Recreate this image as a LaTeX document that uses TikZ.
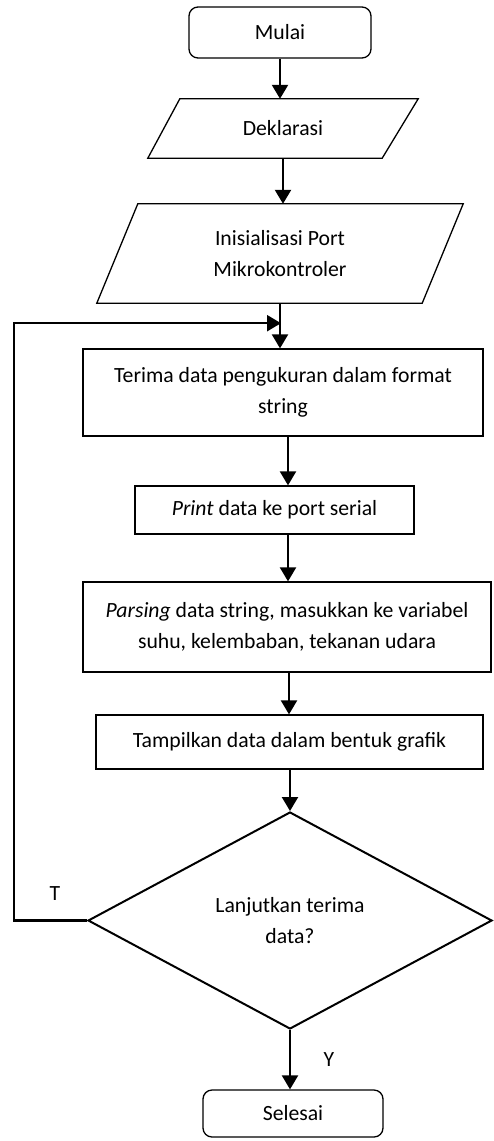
\documentclass[tikz,border=0pt]{standalone}
\usepackage{fontspec}
\setmainfont{Carlito}
\usetikzlibrary{arrows.meta,calc,shapes.geometric}
\begin{document}
\begin{tikzpicture}[x=1pt,y=-1pt,
  txt/.style={font=\fontsize{21.7}{30.5}\selectfont, align=center, inner sep=0pt},
  holder/.style={txt},
  arr/.style={line width=2.3pt, -{Triangle[length=14pt,width=16pt]}},
  outline/.style={line width=1.3pt, line join=miter},
]
\useasboundingbox (0,0) rectangle (493,1141);
% nodes
\node[txt, draw, line width=1.3pt, rounded corners=9pt, minimum width=182pt, minimum height=51pt] (mulai) at (280,32.5) {Mulai};
\node[holder, minimum width=270pt, minimum height=59pt] (dek) at (283,128.5) {Deklarasi};
\node[holder, minimum width=366pt, minimum height=99pt] (ini) at (280,253.5) {Inisialisasi Port\\Mikrokontroler};
\node[txt, draw, line width=1.3pt, minimum width=400pt, minimum height=87pt] (terima) at (283,392.5) {Terima data pengukuran dalam format\\string};
\node[txt, draw, line width=1.3pt, minimum width=279pt, minimum height=48pt] (print) at (274.5,510) {\textit{Print} data ke port serial};
\node[txt, draw, line width=1.3pt, minimum width=408pt, minimum height=90pt] (parsing) at (287,627) {\textit{Parsing} data string, masukkan ke variabel\\suhu, kelembaban, tekanan udara};
\node[txt, draw, line width=1.3pt, minimum width=387pt, minimum height=54pt] (tampil) at (289.5,742) {Tampilkan data dalam bentuk grafik};
\node[txt, draw, line width=2pt, diamond, aspect=2, minimum width=404pt, minimum height=217pt] (dia) at (290,920.5) {Lanjutkan terima\\data?};
\node[txt, draw, line width=1.3pt, rounded corners=9pt, minimum width=180pt, minimum height=47pt] (selesai) at (293,1113.5) {Selesai};
% parallelogram outlines
\draw[outline] ($(dek.north west)+(32,0)$) -- (dek.north east) -- ($(dek.south east)+(-36,0)$) -- (dek.south west) -- cycle;
\draw[outline] ($(ini.north west)+(41,0)$) -- (ini.north east) -- ($(ini.south east)+(-41,0)$) -- (ini.south west) -- cycle;
% connectors
\draw[arr] (mulai.south) -- (mulai.south |- dek.north);
\draw[arr] (dek.south) -- (dek.south |- ini.north);
\coordinate (join) at ($(ini.south)+(1,20)$);
\draw[arr] (ini.south) -- (ini.south |- terima.north);
\draw[arr] ([xshift=5pt]terima.south) -- ([xshift=5pt]terima.south |- print.north);
\draw[arr] ([xshift=1pt]parsing.north |- print.south) -- ([xshift=1pt]parsing.north);
\draw[arr] ([xshift=2pt]parsing.south) -- ([xshift=2pt]parsing.south |- tampil.north);
\draw[arr] (dia.north |- tampil.south) -- (dia.north);
\draw[arr] (dia.south) -- (dia.south |- selesai.north);
\draw[line width=2.2pt, -{Triangle[length=14pt,width=16pt]}] (dia.west) -- ++(-73,0) |- (join);
% labels
\node[txt] (tlab) at (55,894) {T};
\node[txt] (ylab) at (329,1060) {Y};
\end{tikzpicture}
\end{document}
